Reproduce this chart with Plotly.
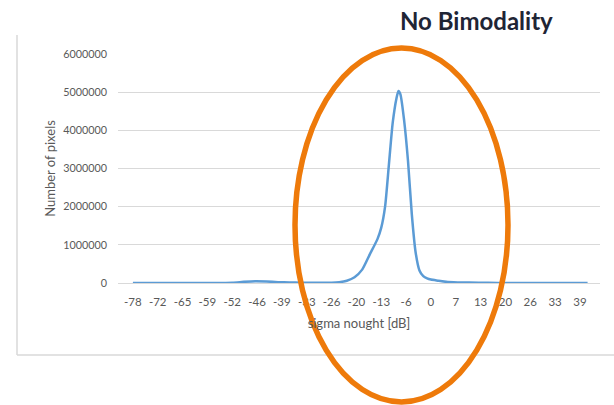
import plotly.graph_objects as go

# Histogram of backscatter values (sigma nought, dB) vs. pixel count
sigma_db = [-78, -70, -60, -52, -49, -46, -43, -40, -37, -34, -30, -26, -24, -22,
            -20, -18, -16, -14, -13, -12, -11, -10, -9, -8.5, -8, -7, -6, -5,
            -4, -3, -2, -1, 0, 2, 4, 7, 10, 15, 20, 30, 41]
pixel_count = [0, 0, 0, 8000, 30000, 45000, 38000, 22000, 12000, 8000, 5000, 5000,
               20000, 60000, 150000, 350000, 750000, 1150000, 1450000, 2000000,
               3100000, 4200000, 4850000, 5030000, 4950000, 4250000, 3200000,
               1800000, 800000, 330000, 180000, 120000, 90000, 60000, 30000,
               15000, 10000, 5000, 0, 0, 0]

tick_vals = [-78 + 6.5 * i for i in range(19)]
tick_text = ["-78", "-72", "-65", "-59", "-52", "-46", "-39", "-33", "-26", "-20",
             "-13", "-6", "0", "7", "13", "20", "26", "33", "39"]
y_ticks = [0, 1000000, 2000000, 3000000, 4000000, 5000000, 6000000]

grey = "#595959"
grid = "#d9d9d9"

# Plot-area geometry in pixels
left, right, top, bottom = 118, 14, 54, 122
plot_w, plot_h = 614 - left - right, 405 - top - bottom


def px(xp):
    return (xp - left) / plot_w


def py(yp):
    return (405 - bottom - yp) / plot_h


fig = go.Figure()
fig.add_trace(go.Scatter(
    x=sigma_db, y=pixel_count, mode="lines",
    line=dict(color="#5b9bd5", width=2.5, shape="spline", smoothing=0.6),
    hoverinfo="x+y", showlegend=False,
))

fig.update_layout(
    width=614, height=405,
    margin=dict(l=left, r=right, t=top, b=bottom),
    paper_bgcolor="white", plot_bgcolor="white",
    font=dict(family="Lato, Open Sans, sans-serif", color=grey, size=11.5),
    xaxis=dict(
        range=[-81.9, 44.25], tickmode="array", tickvals=tick_vals, ticktext=tick_text,
        showgrid=False, zeroline=False, showline=True, linecolor=grid, linewidth=1,
        ticks="", ticklabelstandoff=8,
        title=dict(text="sigma nought [dB]", font=dict(size=13, color=grey), standoff=12),
    ),
    yaxis=dict(
        range=[0, 6000000], tickmode="array", tickvals=y_ticks,
        tickformat="d", tickfont=dict(size=10.8), showgrid=True, gridcolor=grid, gridwidth=1,
        zeroline=False, showline=False, ticks="", ticklabelstandoff=10,
        title=dict(text="Number of pixels", font=dict(size=13, color=grey), standoff=4),
    ),
    annotations=[dict(
        text="<b>No Bimodality</b>", x=px(476), y=py(20), xref="paper", yref="paper",
        xanchor="center", yanchor="middle", showarrow=False,
        font=dict(size=24, color="#1f2535", family="Lato, Open Sans, sans-serif"),
    )],
)

# Chart-area border (left and bottom edges)
fig.add_shape(type="line", xref="paper", yref="paper",
              x0=px(17), x1=px(17), y0=py(35), y1=py(355),
              line=dict(color=grid, width=1.5))
fig.add_shape(type="line", xref="paper", yref="paper",
              x0=px(17), x1=px(614), y0=py(355), y1=py(355),
              line=dict(color=grid, width=1.5))

# Highlight ellipse around the single peak
fig.add_shape(type="circle", xref="paper", yref="paper",
              x0=px(295), x1=px(508), y0=py(402), y1=py(48),
              line=dict(color="#ee7a0a", width=5.5), layer="above")

fig.write_html("out.html")
